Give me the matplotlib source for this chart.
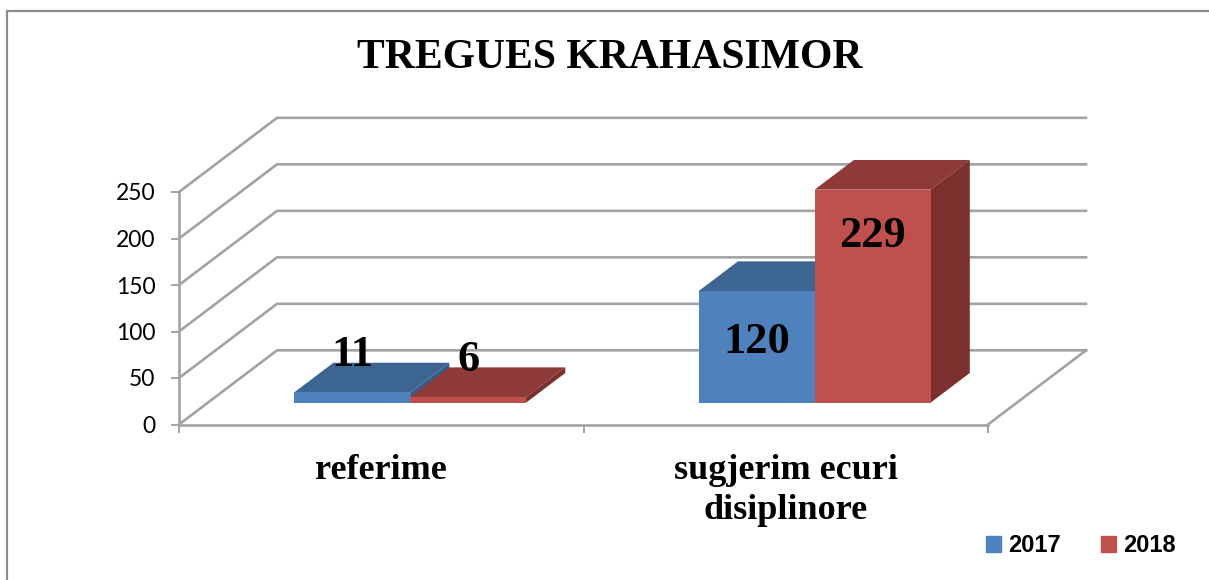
import matplotlib
matplotlib.use("Agg")
import matplotlib.pyplot as plt
from matplotlib.patches import Patch, Rectangle

categories = ["referime", "sugjerim ecuri\ndisiplinore"]
series_names = ["2017", "2018"]
values_2017 = [11, 120]
values_2018 = [6, 229]
y_ticks = [0, 50, 100, 150, 200, 250]
title = "TREGUES KRAHASIMOR"

# how far labels sit from the bar top, in value units
label_shift_2017 = [40, -55]
label_shift_2018 = [40, -50]

GRID = "#a3a3a3"
BLUE = ("#4f81bd", "#3d6592", "#385d8a")
RED = ("#c0504d", "#8e3a38", "#7b302e")
SERIF = "Liberation Serif"

# oblique projection, depth 0 is the front edge and 1 the back wall
DEPTH_X = 98 / 404.5
DEPTH_Y = 74 / 232 * 250
BAR_W = 0.2866
BAR_D0 = 0.295
BAR_D1 = 0.695


def project(x, y, d):
    return x + d * DEPTH_X, y + d * DEPTH_Y


def face(ax, corners, color, z):
    xs, ys = zip(*[project(*c) for c in corners])
    ax.fill(xs, ys, color=color, lw=0, zorder=z, clip_on=False)


def draw_bar(ax, x, h, colors, z):
    x1 = x + BAR_W
    face(ax, [(x, h, BAR_D0), (x1, h, BAR_D0), (x1, h, BAR_D1), (x, h, BAR_D1)], colors[1], z)
    face(ax, [(x1, 0, BAR_D0), (x1, h, BAR_D0), (x1, h, BAR_D1), (x1, 0, BAR_D1)], colors[2], z)
    face(ax, [(x, 0, BAR_D0), (x1, 0, BAR_D0), (x1, h, BAR_D0), (x, h, BAR_D0)], colors[0], z)


fig = plt.figure(figsize=(12.09, 5.8), dpi=100)
ax = fig.add_axes([179 / 1209, 1 - 424.5 / 580, 809 / 1209, 232.5 / 580])
ax.set_xlim(0, len(categories))
ax.set_ylim(0, y_ticks[-1])
ax.patch.set_visible(False)

# outer frame, runs off the right and bottom of the image
fig.add_artist(Rectangle((6.5 / 1209, -0.1), 1.2, 1.1 - 11 / 580, transform=fig.transFigure,
                         fill=False, ec="#8c8c8c", lw=1.6))

# side wall and back wall lines
x_end = len(categories)
for v in y_ticks:
    x0, y0 = project(0, v, 0)
    x1, y1 = project(0, v, 1)
    x2, y2 = project(x_end, v, 1)
    ax.plot([x0, x1, x2], [y0, y1, y2], color=GRID, lw=1.9, zorder=1, clip_on=False,
            solid_joinstyle="miter")
x0, y0 = project(x_end, 0, 0)
x1, y1 = project(x_end, 0, 1)
ax.plot([x0, x1], [y0, y1], color=GRID, lw=1.9, zorder=1, clip_on=False)

for spine in ["top", "right"]:
    ax.spines[spine].set_visible(False)
for spine in ["left", "bottom"]:
    ax.spines[spine].set_color(GRID)
    ax.spines[spine].set_linewidth(1.9)
    ax.spines[spine].set_zorder(1)

ax.set_yticks(y_ticks)
ax.tick_params(axis="y", length=6, width=1.4, color=GRID, pad=11, labelsize=16.5)
for lab in ax.get_yticklabels():
    lab.set_family("Lato")
ax.set_xticks(range(len(categories) + 1))
ax.set_xticklabels([])
ax.tick_params(axis="x", which="major", length=6, width=1.4, color=GRID)
ax.set_xticks([i + 0.5 for i in range(len(categories))], categories, minor=True)
ax.tick_params(axis="x", which="minor", length=0, pad=21)
for lab in ax.get_xticklabels(minor=True):
    lab.set_family(SERIF)
    lab.set_fontweight("bold")
    lab.set_fontsize(26)
    lab.set_linespacing(1.28)

for i in range(len(categories)):
    left = i + 0.5 - BAR_W
    draw_bar(ax, left, values_2017[i], BLUE, 3)
    draw_bar(ax, left + BAR_W, values_2018[i], RED, 4)

    # data labels
    for vals, shift, start in [(values_2017, label_shift_2017, left),
                               (values_2018, label_shift_2018, left + BAR_W)]:
        tx, ty = project(start + BAR_W / 2, vals[i] + shift[i], BAR_D0)
        ax.text(tx, ty, str(vals[i]), ha="center", va="center", family=SERIF,
                fontweight="bold", fontsize=32, color="black", zorder=6)

fig.text(610 / 1209, 1 - 58 / 580, title, ha="center", va="center", family=SERIF,
         fontweight="bold", fontsize=30, color="black")

handles = [Patch(color=BLUE[0], label=series_names[0]), Patch(color=RED[0], label=series_names[1])]
leg = fig.legend(handles=handles, ncol=2, loc="center right", bbox_to_anchor=(1176 / 1209, 1 - 546 / 580),
                 frameon=False, handlelength=0.64, handleheight=0.64, handletextpad=0.3,
                 columnspacing=1.7, borderaxespad=0, borderpad=0,
                 prop={"family": "Liberation Sans", "weight": "bold", "size": 17})

fig.savefig("out.png", dpi=100)
